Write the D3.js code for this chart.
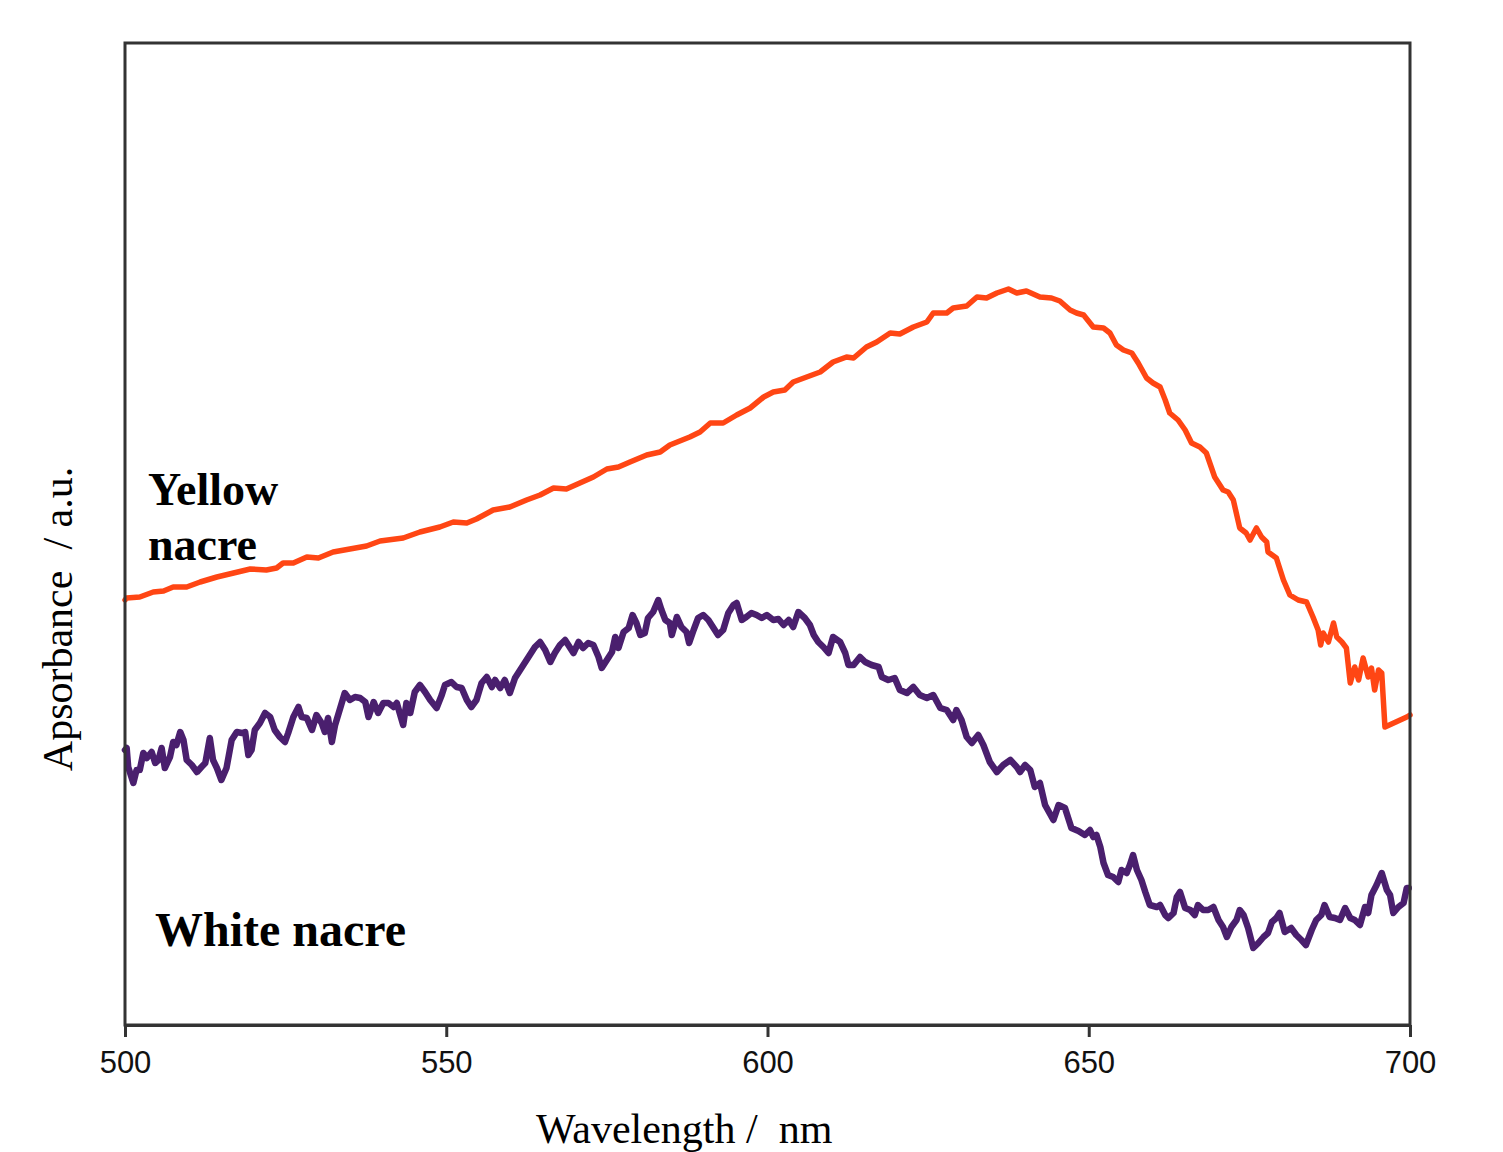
<!DOCTYPE html>
<html>
<head>
<meta charset="utf-8">
<script src="https://cdn.jsdelivr.net/npm/d3@7/dist/d3.min.js"></script>
<style>
  html, body { margin: 0; padding: 0; background: #fff; }
  svg { display: block; }
</style>
</head>
<body>
<svg id="chart" width="1503" height="1152"></svg>
<script>
// ---------- data ----------
const xTicks = [500, 550, 600, 650, 700];
const xDomain = [500, 700];
const yDomain = [0, 0.982];   // arbitrary absorbance units
const seriesNames = ["Yellow nacre", "White nacre"];
const seriesColors = ["#ff4614", "#4a1f6e"];

// [wavelength nm, absorbance a.u.]
const yellowNacre = [
[500.0,0.425],[500.26,0.427],[502.3,0.428],[504.4,0.433],[506.0,0.434],[507.5,0.438],[509.6,0.438],
[511.7,0.443],[514.3,0.448],[516.9,0.452],[519.5,0.456],[522.0,0.455],[523.6,0.457],[524.6,0.462],
[526.2,0.462],[528.3,0.468],[530.1,0.467],[532.4,0.473],[535.0,0.476],[537.6,0.479],[539.7,0.484],
[543.3,0.487],[545.9,0.493],[549.0,0.498],[551.1,0.503],[553.2,0.502],[554.7,0.506],[557.3,0.515],
[559.9,0.518],[562.5,0.525],[564.6,0.530],[566.7,0.537],[568.7,0.536],[570.8,0.542],[572.9,0.548],
[575.0,0.556],[576.8,0.558],[578.6,0.563],[581.2,0.570],[583.3,0.573],[584.8,0.580],[587.9,0.588],
[589.5,0.593],[591.1,0.602],[593.1,0.602],[595.2,0.610],[597.3,0.617],[599.4,0.628],[600.9,0.633],
[602.7,0.635],[604.0,0.643],[606.1,0.648],[608.2,0.653],[610.2,0.663],[612.3,0.668],[613.4,0.667],
[615.4,0.678],[617.0,0.683],[619.1,0.692],[620.6,0.691],[622.7,0.698],[624.8,0.703],[625.8,0.712],
[627.9,0.712],[628.9,0.717],[631.0,0.719],[632.6,0.728],[634.1,0.727],[635.7,0.732],[637.5,0.736],
[638.8,0.732],[640.3,0.734],[642.4,0.728],[644.2,0.727],[645.5,0.724],[647.1,0.715],[648.1,0.712],
[649.2,0.710],[650.7,0.698],[652.3,0.697],[653.3,0.692],[654.3,0.680],[655.4,0.675],[656.7,0.672],
[657.7,0.662],[659.0,0.647],[660.0,0.642],[661.1,0.638],[661.9,0.625],[662.6,0.612],[663.9,0.605],
[665.0,0.595],[666.0,0.582],[667.3,0.578],[668.3,0.572],[669.6,0.548],[670.9,0.535],[671.7,0.533],
[672.5,0.525],[673.5,0.497],[674.5,0.492],[675.1,0.485],[676.1,0.497],[676.9,0.488],[677.7,0.483],
[677.9,0.473],[679.2,0.467],[680.3,0.445],[681.3,0.430],[682.6,0.425],[683.9,0.423],[684.9,0.408],
[685.7,0.395],[686.1,0.380],[686.5,0.392],[687.3,0.383],[688.1,0.402],[688.6,0.388],[689.4,0.383],
[690.1,0.377],[690.7,0.342],[691.4,0.358],[692.0,0.345],[692.7,0.367],[693.5,0.348],[694.0,0.357],
[694.5,0.335],[695.1,0.355],[695.6,0.352],[696.1,0.298],[699.5,0.308],[700.0,0.310]
];

const whiteNacre = [
[500.0,0.275],[500.26,0.277],[500.5,0.258],[501.3,0.242],[501.8,0.255],[502.3,0.255],[502.85,0.272],
[503.4,0.267],[504.15,0.273],[504.7,0.262],[505.2,0.265],[505.7,0.277],[506.2,0.257],[507.0,0.268],
[507.5,0.283],[508.0,0.280],[508.6,0.293],[509.1,0.285],[509.6,0.265],[510.4,0.260],[511.2,0.253],
[511.9,0.258],[512.5,0.262],[513.2,0.287],[513.7,0.265],[514.3,0.257],[515.0,0.245],[515.8,0.257],
[516.6,0.285],[517.4,0.293],[518.2,0.292],[518.7,0.293],[519.2,0.270],[519.7,0.275],[520.2,0.295],
[521.0,0.302],[521.8,0.312],[522.6,0.308],[523.3,0.295],[524.1,0.288],[524.9,0.283],[525.4,0.292],
[526.2,0.308],[527.0,0.318],[527.5,0.308],[528.3,0.307],[529.1,0.295],[529.8,0.310],[530.6,0.302],
[531.1,0.293],[531.6,0.307],[532.2,0.283],[532.7,0.300],[533.5,0.317],[534.2,0.332],[535.0,0.325],
[535.8,0.328],[536.6,0.327],[537.4,0.323],[537.9,0.308],[538.7,0.323],[539.4,0.312],[540.2,0.322],
[541.0,0.322],[541.8,0.318],[542.3,0.322],[543.3,0.300],[543.8,0.322],[544.4,0.312],[545.1,0.333],
[545.9,0.340],[546.7,0.333],[547.5,0.325],[548.5,0.317],[549.3,0.330],[549.8,0.340],[550.8,0.343],
[551.6,0.338],[552.4,0.337],[553.2,0.325],[553.9,0.318],[554.7,0.325],[555.5,0.342],[556.3,0.348],
[557.1,0.338],[557.6,0.345],[558.4,0.337],[559.1,0.345],[559.9,0.332],[560.7,0.347],[561.5,0.355],
[562.3,0.363],[563.0,0.370],[563.8,0.378],[564.6,0.383],[565.4,0.375],[566.2,0.363],[566.9,0.372],
[567.7,0.380],[568.5,0.385],[569.3,0.377],[569.8,0.372],[570.6,0.383],[571.3,0.377],[572.1,0.382],
[572.9,0.380],[573.7,0.368],[574.2,0.357],[575.0,0.365],[575.8,0.373],[576.3,0.388],[576.8,0.377],
[577.6,0.393],[578.4,0.397],[579.0,0.410],[579.6,0.402],[580.2,0.390],[580.9,0.392],[581.4,0.407],
[582.2,0.413],[583.0,0.425],[583.5,0.415],[584.1,0.405],[584.8,0.402],[585.1,0.390],[585.9,0.408],
[586.6,0.398],[587.4,0.393],[587.8,0.382],[588.5,0.395],[589.2,0.407],[590.0,0.410],[590.8,0.405],
[591.6,0.397],[592.3,0.390],[593.1,0.395],[593.9,0.412],[594.7,0.420],[595.2,0.422],[596.0,0.405],
[596.7,0.408],[597.5,0.412],[598.3,0.410],[599.1,0.407],[599.9,0.410],[600.9,0.405],[601.7,0.406],
[602.5,0.400],[603.3,0.405],[604.0,0.398],[604.8,0.413],[605.8,0.407],[606.6,0.400],[607.2,0.390],
[607.9,0.383],[608.7,0.378],[609.5,0.372],[610.2,0.388],[611.3,0.383],[612.1,0.372],[612.6,0.360],
[613.4,0.360],[614.4,0.368],[615.2,0.363],[616.2,0.360],[617.3,0.358],[617.8,0.348],[618.8,0.345],
[619.8,0.347],[620.6,0.335],[621.7,0.332],[622.7,0.338],[623.7,0.330],[624.8,0.327],[625.8,0.330],
[626.9,0.317],[627.9,0.315],[628.9,0.305],[629.4,0.315],[630.2,0.305],[631.0,0.288],[631.8,0.282],
[632.8,0.290],[633.6,0.280],[634.6,0.263],[635.7,0.253],[636.7,0.260],[637.8,0.265],[638.8,0.258],
[639.3,0.253],[640.1,0.260],[640.9,0.255],[641.6,0.238],[642.4,0.242],[643.2,0.220],[644.5,0.205],
[645.3,0.220],[646.3,0.217],[647.3,0.197],[648.4,0.194],[649.4,0.190],[650.2,0.195],[650.7,0.188],
[651.2,0.190],[651.8,0.178],[652.3,0.162],[653.0,0.150],[653.8,0.148],[654.6,0.143],[655.1,0.155],
[655.9,0.152],[656.4,0.160],[656.9,0.170],[657.5,0.155],[658.2,0.145],[658.8,0.133],[659.5,0.120],
[660.6,0.118],[661.1,0.120],[661.9,0.110],[662.4,0.107],[663.2,0.112],[663.7,0.128],[664.2,0.133],
[665.0,0.117],[665.8,0.115],[666.5,0.110],[667.0,0.120],[667.8,0.115],[668.6,0.115],[669.4,0.118],
[670.2,0.105],[670.9,0.098],[671.5,0.088],[672.2,0.098],[673.0,0.105],[673.5,0.115],[674.1,0.110],
[674.8,0.097],[675.6,0.077],[676.4,0.082],[677.2,0.088],[677.9,0.092],[678.5,0.103],[679.2,0.107],
[679.7,0.112],[680.5,0.093],[681.5,0.097],[682.3,0.090],[683.1,0.085],[683.8,0.080],[684.7,0.095],
[685.4,0.105],[686.2,0.110],[686.7,0.120],[687.5,0.108],[688.3,0.107],[689.1,0.105],[689.9,0.117],
[690.7,0.107],[691.4,0.105],[692.2,0.100],[693.0,0.118],[693.5,0.112],[694.0,0.130],[694.8,0.140],
[695.6,0.152],[696.4,0.135],[696.9,0.130],[697.4,0.112],[698.2,0.118],[699.0,0.122],[699.5,0.137],
[699.8,0.137]
];

// ---------- layout ----------
const svg = d3.select("#chart");
const margin = { left: 125, top: 43, right: 93, bottom: 127 };
const W = 1503, H = 1152;
const iw = W - margin.left - margin.right;   // 1285
const ih = H - margin.top - margin.bottom;   // 982

const x = d3.scaleLinear().domain(xDomain).range([margin.left, margin.left + iw]);
const y = d3.scaleLinear().domain(yDomain).range([margin.top + ih, margin.top]);

const line = d3.line().x(d => x(d[0])).y(d => y(d[1])).curve(d3.curveLinear);

const g = svg.append("g");

// series
[yellowNacre, whiteNacre].forEach((data, i) => {
  g.append("path")
    .datum(data)
    .attr("d", line)
    .attr("fill", "none")
    .attr("stroke", seriesColors[i])
    .attr("stroke-width", i === 0 ? 5.5 : 6.5)
    .attr("stroke-linejoin", "round")
    .attr("stroke-linecap", "round");
});

// frame
g.append("rect")
  .attr("x", margin.left).attr("y", margin.top)
  .attr("width", iw).attr("height", ih)
  .attr("fill", "none")
  .attr("stroke", "#333")
  .attr("stroke-width", 3);

// bottom axis
const xAxis = d3.axisBottom(x).tickValues(xTicks).tickSize(12).tickSizeOuter(0).tickPadding(14)
  .tickFormat(d3.format("d"));
const ax = svg.append("g")
  .attr("transform", `translate(0,${margin.top + ih})`)
  .call(xAxis);
ax.select(".domain").attr("stroke", "#333").attr("stroke-width", 3);
ax.selectAll(".tick line").attr("stroke", "#333").attr("stroke-width", 3);
ax.selectAll(".tick text")
  .attr("fill", "#111")
  .style("font-family", "'Liberation Sans', Arial, sans-serif")
  .style("font-size", "31px");

// axis titles
svg.append("text")
  .attr("x", 536).attr("y", 1143)
  .style("font-family", "'Liberation Serif', 'Times New Roman', serif")
  .style("font-size", "42px")
  .style("white-space", "pre")
  .attr("fill", "#000")
  .text("Wavelength /  nm");

svg.append("text")
  .attr("transform", "translate(72,619) rotate(-90)")
  .attr("text-anchor", "middle")
  .style("font-family", "'Liberation Serif', 'Times New Roman', serif")
  .style("font-size", "42px")
  .style("white-space", "pre")
  .attr("fill", "#000")
  .text("Apsorbance  / a.u.");

// series labels
const lab = svg.append("g")
  .style("font-family", "'Liberation Serif', 'Times New Roman', serif")
  .style("font-weight", "bold")
  .attr("fill", "#000");
lab.append("text").attr("x", 148).attr("y", 505).style("font-size", "46px")
  .text(seriesNames[0].split(" ")[0]);
lab.append("text").attr("x", 148).attr("y", 560).style("font-size", "46px")
  .text(seriesNames[0].split(" ")[1]);
lab.append("text").attr("x", 155).attr("y", 946).style("font-size", "48px")
  .text(seriesNames[1]);
</script>
</body>
</html>
